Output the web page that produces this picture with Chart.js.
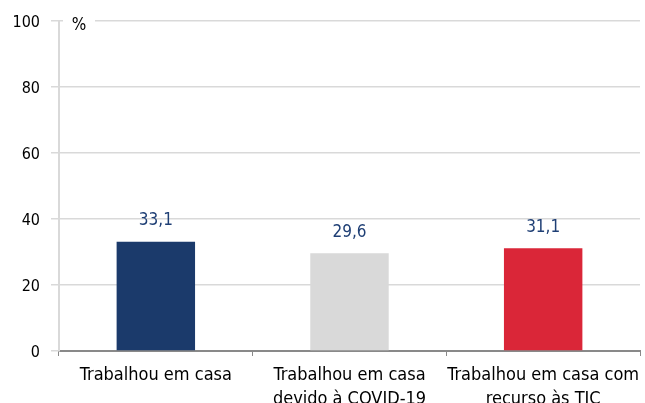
<!DOCTYPE html>
<html lang="pt">
<head>
    <meta charset="UTF-8">
    <title>Trabalho em casa</title>
    <script src="https://cdn.jsdelivr.net/npm/chart.js"></script>
    <style>
        body {
            margin: 0;
            padding: 0;
            background-color: #ffffff;
        }

        .chart-container {
            width: 645px;
            height: 403px;
            position: relative;
        }
    </style>
</head>
<body>
    <div class="chart-container">
        <canvas id="teleChart"></canvas>
    </div>

    <script>
        // Categories and values
        const categories = [
            ['Trabalhou em casa'],
            ['Trabalhou em casa', 'devido à COVID-19'],
            ['Trabalhou em casa com', 'recurso às TIC']
        ];
        const values = [33.1, 29.6, 31.1];
        const barColors = ['#1b3a6b', '#d9d9d9', '#da2638'];
        const yTicks = [0, 20, 40, 60, 80, 100];

        const fontFamily = "'DejaVu Sans Condensed', 'DejaVu Sans', Verdana, sans-serif";

        // Value labels above each bar (Portuguese decimal comma)
        const valueLabels = {
            id: 'valueLabels',
            afterDatasetsDraw(chart) {
                const ctx = chart.ctx;
                const meta = chart.getDatasetMeta(0);
                ctx.save();
                ctx.font = '17px ' + fontFamily;
                ctx.fillStyle = '#1f3f75';
                ctx.textAlign = 'center';
                ctx.textBaseline = 'middle';
                meta.data.forEach((bar, i) => {
                    const txt = values[i].toFixed(1).replace('.', ',');
                    ctx.fillText(txt, bar.x, bar.y - 21);
                });
                ctx.restore();
            }
        };

        // "%" unit label sitting on the top gridline
        const unitLabel = {
            id: 'unitLabel',
            afterDraw(chart) {
                const ctx = chart.ctx;
                const top = chart.chartArea.top;
                const left = chart.chartArea.left;
                ctx.save();
                ctx.fillStyle = '#ffffff';
                ctx.fillRect(left + 4, top - 6, 32, 12);
                ctx.font = '17px ' + fontFamily;
                ctx.fillStyle = '#000000';
                ctx.textAlign = 'center';
                ctx.textBaseline = 'middle';
                ctx.fillText('%', left + 20, top + 5);
                ctx.restore();
            }
        };

        const ctx = document.getElementById('teleChart').getContext('2d');
        const teleChart = new Chart(ctx, {
            type: 'bar',
            data: {
                labels: categories,
                datasets: [{
                    data: values,
                    backgroundColor: barColors,
                    borderWidth: 0,
                    categoryPercentage: 1,
                    barPercentage: 0.405
                }]
            },
            options: {
                responsive: true,
                maintainAspectRatio: false,
                animation: false,
                layout: {
                    padding: { top: 21, right: 5, left: 0, bottom: 0 }
                },
                plugins: {
                    legend: { display: false },
                    tooltip: { enabled: false }
                },
                scales: {
                    x: {
                        grid: {
                            display: true,
                            drawOnChartArea: false,
                            color: '#898989',
                            tickLength: 5,
                            lineWidth: 1
                        },
                        border: { color: '#898989', width: 2 },
                        ticks: {
                            color: '#000000',
                            font: { family: fontFamily, size: 18, lineHeight: 1.3 },
                            padding: 8,
                            maxRotation: 0,
                            autoSkip: false
                        },
                        afterFit(scale) {
                            scale.height = 52;
                            scale.paddingRight = 0;
                            scale.paddingLeft = 0;
                        }
                    },
                    y: {
                        min: 0,
                        max: 100,
                        afterBuildTicks(scale) {
                            scale.ticks = yTicks.map(v => ({ value: v }));
                        },
                        grid: {
                            color: '#d9d9d9',
                            tickLength: 8,
                            lineWidth: 1.5
                        },
                        border: { color: '#d9d9d9', width: 2 },
                        ticks: {
                            color: '#000000',
                            font: { family: fontFamily, size: 16 },
                            padding: 11,
                            labelOffset: 2
                        },
                        afterFit(scale) {
                            scale.width = 59;
                            scale.paddingTop = 0;
                            scale.paddingBottom = 0;
                        }
                    }
                }
            },
            plugins: [valueLabels, unitLabel]
        });
    </script>
</body>
</html>
